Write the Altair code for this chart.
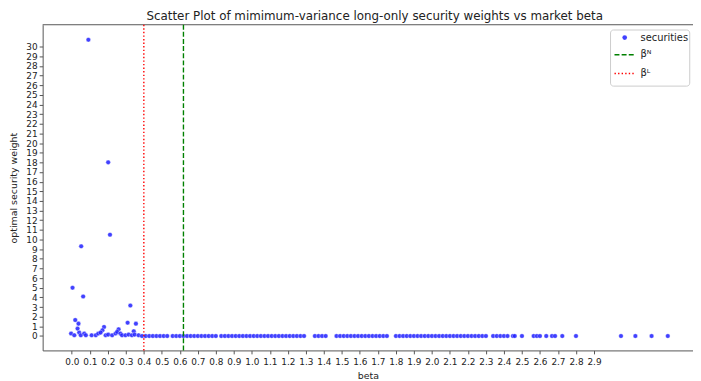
import altair as alt
import pandas as pd

TITLE = "Scatter Plot of mimimum-variance long-only security weights vs market beta"

# securities with non-zero optimal weight
nz_beta = [0.092, 0.202, 0.212, 0.052, 0.004, 0.063, 0.019, 0.037, 0.032, 0.179,
           0.170, 0.260, 0.325, 0.310, 0.356, 0.344,
           -0.004, 0.014, 0.041, 0.050, 0.069, 0.078, 0.110, 0.133, 0.147, 0.160,
           0.188, 0.202, 0.224, 0.243, 0.252, 0.270, 0.279, 0.298, 0.316, 0.334,
           0.349, 0.371]
nz_weight = [30.7, 18.0, 10.5, 9.3, 5.0, 4.1, 1.66, 1.28, 0.77, 0.94,
             0.60, 0.70, 3.16, 1.38, 1.28, 0.50,
             0.26, 0.08, 0.36, 0.08, 0.26, 0.08, 0.08, 0.08, 0.26, 0.36,
             0.08, 0.15, 0.08, 0.26, 0.43, 0.26, 0.08, 0.08, 0.15, 0.08,
             0.15, 0.08]

# securities with zero optimal weight
zero_beta = [0.39, 0.41, 0.43, 0.45, 0.47, 0.49, 0.51, 0.53, 0.56, 0.58, 0.60, 0.62,
             0.64, 0.66, 0.68, 0.70, 0.72, 0.74, 0.76, 0.78, 0.80, 0.83, 0.85, 0.87,
             0.89, 0.91, 0.93, 0.95, 0.97, 0.99, 1.01, 1.03, 1.05, 1.07, 1.09, 1.11,
             1.13, 1.15, 1.17, 1.19, 1.21, 1.23, 1.25, 1.27, 1.29, 1.35, 1.37, 1.39,
             1.41, 1.47, 1.49, 1.51, 1.53, 1.55, 1.57, 1.59, 1.61, 1.63, 1.65, 1.67,
             1.69, 1.71, 1.73, 1.75, 1.80, 1.82, 1.84, 1.86, 1.88, 1.90, 1.92, 1.94,
             1.96, 1.98, 2.00, 2.02, 2.04, 2.06, 2.08, 2.10, 2.12, 2.14, 2.16, 2.18,
             2.20, 2.22, 2.24, 2.26, 2.28, 2.30, 2.34, 2.36, 2.38, 2.40, 2.42, 2.45,
             2.46, 2.50, 2.565, 2.583, 2.60, 2.635, 2.667, 2.684, 2.724, 2.80, 3.05,
             3.13, 3.22, 3.31]

beta_L = 0.40
beta_N = 0.62

x_ticks = [0.0, 0.1, 0.2, 0.3, 0.4, 0.5, 0.6, 0.7, 0.8, 0.9, 1.0, 1.1, 1.2, 1.3, 1.4,
           1.5, 1.6, 1.7, 1.8, 1.9, 2.0, 2.1, 2.2, 2.3, 2.4, 2.5, 2.6, 2.7, 2.8, 2.9]
y_ticks = [0, 1, 2, 3, 4, 5, 6, 7, 8, 9, 10, 11, 12, 13, 14, 15, 16, 17, 18, 19, 20,
           21, 22, 23, 24, 25, 26, 27, 28, 29, 30]

legend_labels = ["securities", "\u03b2\u1d3a", "\u03b2\u1d38"]

W, H = 657, 329
FONT = "DejaVu Sans"
BLUE = "#2020ff"

pts = pd.DataFrame({
    "beta": nz_beta + zero_beta,
    "weight": nz_weight + [0.0] * len(zero_beta),
})

xscale = alt.Scale(domain=[-0.162, 3.450], nice=False, zero=False)
yscale = alt.Scale(domain=[-1.49, 32.26], nice=False, zero=False)

points = alt.Chart(pts).mark_circle(
    size=22, color=BLUE, opacity=0.85, stroke="white", strokeWidth=0.4
).encode(
    x=alt.X("beta:Q", scale=xscale, axis=alt.Axis(
        values=x_ticks, format=".1f", title="beta", grid=False,
        labelFontSize=9, titleFontSize=9.5, titleFontWeight="normal",
        tickSize=3.5, labelPadding=4, titlePadding=4, labelColor="#222",
        titleColor="#222", domainColor="#555", tickColor="#555",
        labelFlush=False, labelOverlap=False, labelSeparation=0, labelBound=False,
        tickCount=30)),
    y=alt.Y("weight:Q", scale=yscale, axis=alt.Axis(
        values=y_ticks, format="d", title="optimal security weight", grid=False,
        labelFontSize=9, titleFontSize=9.5, titleFontWeight="normal",
        tickSize=3.5, labelPadding=2, titlePadding=7, labelColor="#222",
        titleColor="#222", domainColor="#555", tickColor="#555",
        labelFlush=False, labelOverlap=False, labelSeparation=0, labelBound=False,
        tickCount=31)),
)

vl_N = alt.Chart(pd.DataFrame({"beta": [beta_N]})).mark_rule(
    color="green", strokeWidth=1.4, strokeDash=[5, 2.2]
).encode(x=alt.X("beta:Q", scale=xscale))

vl_L = alt.Chart(pd.DataFrame({"beta": [beta_L]})).mark_rule(
    color="red", strokeWidth=1.4, strokeDash=[1.4, 2.2]
).encode(x=alt.X("beta:Q", scale=xscale))

one = alt.Data(values=[{"a": 1}])

top_border = alt.Chart(one).mark_rule(color="#555", strokeWidth=1).encode(
    x=alt.value(0), x2=alt.value(W), y=alt.value(0))

# legend
lx0, lx1, ly0, ly1 = 573.7, 653.7, 5.3, 62.0
leg_box = alt.Chart(one).mark_rect(
    fill="white", stroke="#cccccc", strokeWidth=1, cornerRadius=3
).encode(x=alt.value(lx0), x2=alt.value(lx1), y=alt.value(ly0), y2=alt.value(ly1))

leg_pt = alt.Chart(one).mark_circle(size=22, color=BLUE, opacity=0.85).encode(
    x=alt.value(588), y=alt.value(13))
leg_N = alt.Chart(one).mark_rule(color="green", strokeWidth=1.4, strokeDash=[5, 2.2]).encode(
    x=alt.value(577.7), x2=alt.value(597.7), y=alt.value(30.3))
leg_L = alt.Chart(one).mark_rule(color="red", strokeWidth=1.4, strokeDash=[1.4, 2.2]).encode(
    x=alt.value(577.7), x2=alt.value(597.7), y=alt.value(49.3))

leg_text = []
for lab, yy in zip(legend_labels, [13, 30, 49]):
    leg_text.append(
        alt.Chart(one).mark_text(
            text=lab, align="left", baseline="middle", fontSize=10, font=FONT, color="#222"
        ).encode(x=alt.value(604), y=alt.value(yy))
    )

chart = alt.layer(
    top_border, points, vl_L, vl_N, leg_box, leg_pt, leg_N, leg_L, *leg_text
).properties(
    width=W, height=H,
    title=alt.TitleParams(TITLE, fontSize=12, fontWeight="normal", font=FONT,
                          color="#222", offset=1, dx=7),
    autosize=alt.AutoSizeParams(type="none"),
    padding={"left": 35, "top": 15, "right": 0, "bottom": 30},
).configure(font=FONT).configure_view(stroke=None).configure_axis(
    labelOverlap=False, labelSeparation=0)

chart.save("out.html", embed_options={"renderer": "svg", "actions": False})
